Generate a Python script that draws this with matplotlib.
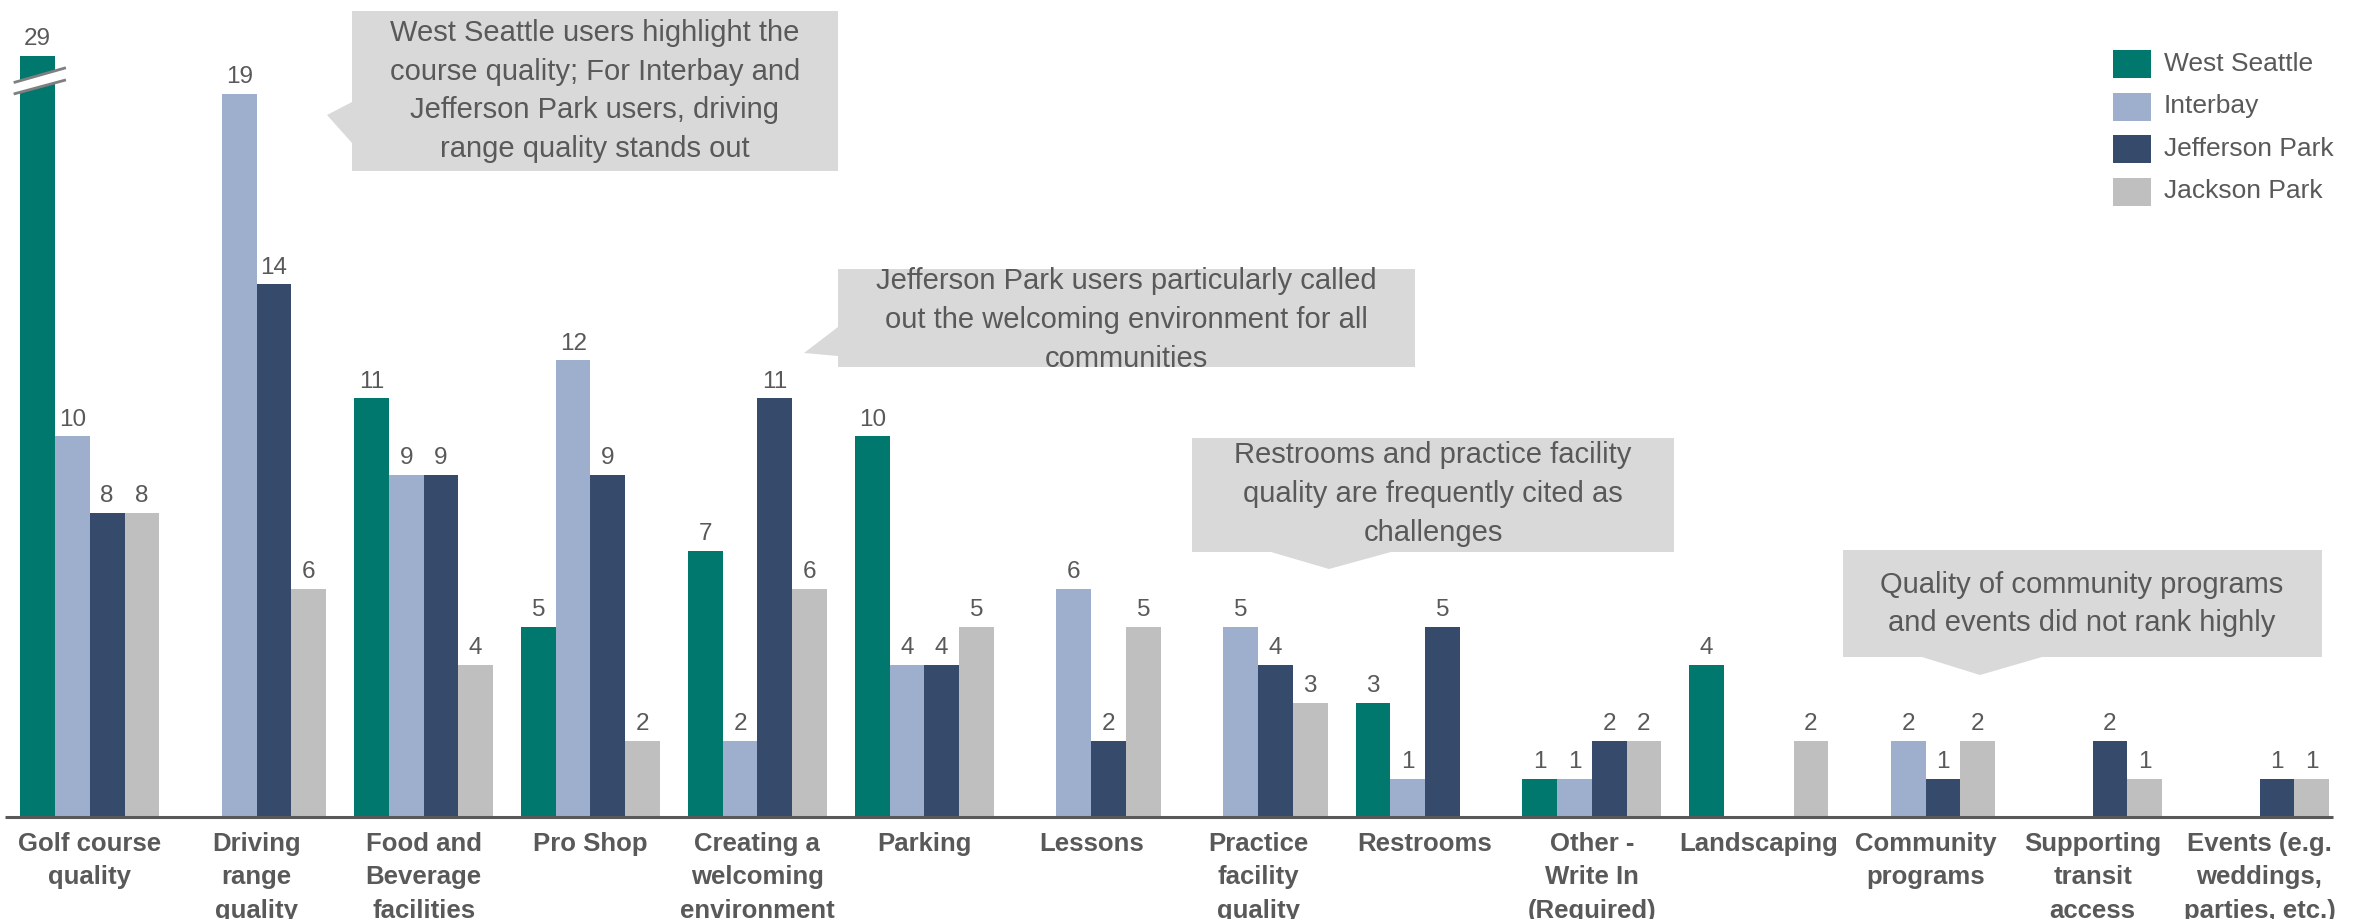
import matplotlib
matplotlib.use("Agg")
import matplotlib.pyplot as plt
from matplotlib.patches import Polygon, Rectangle
import numpy as np

plt.rcParams['font.family'] = ['Liberation Sans', 'DejaVu Sans']

# ---------------- data ----------------
categories = [
    "Golf course\nquality",
    "Driving\nrange\nquality",
    "Food and\nBeverage\nfacilities",
    "Pro Shop",
    "Creating a\nwelcoming\nenvironment",
    "Parking",
    "Lessons",
    "Practice\nfacility\nquality",
    "Restrooms",
    "Other -\nWrite In\n(Required)",
    "Landscaping",
    "Community\nprograms",
    "Supporting\ntransit\naccess",
    "Events (e.g.\nweddings,\nparties, etc.)",
]
series_names = ["West Seattle", "Interbay", "Jefferson Park", "Jackson Park"]
west_seattle = [29, 0, 11, 5, 7, 10, 0, 0, 3, 1, 4, 0, 0, 0]
interbay = [10, 19, 9, 12, 2, 4, 6, 5, 1, 1, 0, 2, 0, 0]
jefferson_park = [8, 14, 9, 9, 11, 4, 2, 4, 5, 2, 0, 1, 2, 1]
jackson_park = [8, 6, 4, 2, 6, 5, 5, 3, 0, 2, 2, 2, 1, 1]
AXIS_CAP = 20  # bars above this value are drawn cut with a break mark

callout_texts = [
    "West Seattle users highlight the\ncourse quality; For Interbay and\nJefferson Park users, driving\nrange quality stands out",
    "Jefferson Park users particularly called\nout the welcoming environment for all\ncommunities",
    "Restrooms and practice facility\nquality are frequently cited as\nchallenges",
    "Quality of community programs\nand events did not rank highly",
]

# ---------------- style ----------------
colors = ["#00786E", "#9DAFCD", "#364A6B", "#BFBFBF"]
TEXT = "#595959"
BOX = "#D9D9D9"
W, H = 2368, 919

fig = plt.figure(figsize=(W / 100, H / 100), dpi=100)
base_px = 817
ax = fig.add_axes([0, (H - base_px) / H, 1, base_px / H])
ax.set_xlim(-0.538, 13.65)
ax.set_ylim(0, 21.47)
ax.patch.set_visible(False)
for s in ax.spines.values():
    s.set_visible(False)
ax.set_yticks([])

x = np.arange(len(categories))
bw = 0.208
all_series = [west_seattle, interbay, jefferson_park, jackson_park]
for i, (vals, name, col) in enumerate(zip(all_series, series_names, colors)):
    vals = np.array(vals)
    heights = np.minimum(vals, AXIS_CAP)
    bars = ax.bar(x + (i - 1.5) * bw, heights, bw, color=col, label=name, zorder=2)
    labels = [str(v) if v > 0 else "" for v in vals]
    ax.bar_label(bars, labels=labels, padding=4, fontsize=17.5, color=TEXT)

# break mark on the cut bar(s)
for i, vals in enumerate(all_series):
    for j, v in enumerate(vals):
        if v > AXIS_CAP:
            bx = x[j] + (i - 1.5) * bw
            xl, xr = bx - bw / 2 - 0.04, bx + bw / 2 + 0.065
            lo = (19.0, 19.37)
            hi = (19.3, 19.69)
            ax.add_patch(Polygon([(xl, lo[0]), (xr, lo[1]), (xr, hi[1]), (xl, hi[0])],
                                 closed=True, fc="white", ec="none", zorder=3, clip_on=False))
            ax.plot([xl, xr], lo, color="#7F7F7F", lw=2, zorder=4, solid_capstyle="butt")
            ax.plot([xl, xr], hi, color="#7F7F7F", lw=2, zorder=4, solid_capstyle="butt")

# baseline
ax.hlines(0, -0.51, 13.44, color=TEXT, lw=2.2, zorder=5, clip_on=False)

ax.set_xticks(x)
ax.set_xticklabels(categories, fontsize=18.5, fontweight="bold", color=TEXT, linespacing=1.52)
ax.tick_params(axis="x", length=0, pad=10.5)


# ---------------- callouts ----------------
def fp(px, py):
    return (px / W, 1 - py / H)


callout_shapes = [
    [(352, 11), (838, 11), (838, 171), (352, 171), (352, 143), (327, 115), (352, 102)],
    [(838, 269), (1415, 269), (1415, 367), (838, 367), (838, 356), (804, 353), (838, 327)],
    [(1192, 438), (1674, 438), (1674, 552), (1391, 552), (1329, 569), (1271, 552), (1192, 552)],
    [(1843, 550), (2322, 550), (2322, 657), (2042, 657), (1980, 675), (1922, 657), (1843, 657)],
]
callout_centers = [(595, 91), (1126, 320), (1433, 494), (2082, 604)]

for shape, txt, (cx, cy) in zip(callout_shapes, callout_texts, callout_centers):
    fig.add_artist(Polygon([fp(*p) for p in shape], closed=True, transform=fig.transFigure,
                           fc=BOX, ec="none", zorder=1))
    fx, fy = fp(cx, cy)
    fig.text(fx, fy, txt, ha="center", va="center", fontsize=21, color=TEXT,
             linespacing=1.49, zorder=2)

# ---------------- legend ----------------
for i, (name, col) in enumerate(zip(series_names, colors)):
    yc = 64 + i * 42.5
    x0, y0 = fp(2113, yc + 14)
    fig.add_artist(Rectangle((x0, y0), 38 / W, 28 / H, transform=fig.transFigure,
                             fc=col, ec="none"))
    tx, ty = fp(2164, yc)
    fig.text(tx, ty, name, ha="left", va="center", fontsize=19, color=TEXT)

fig.savefig("out.png", dpi=100)
